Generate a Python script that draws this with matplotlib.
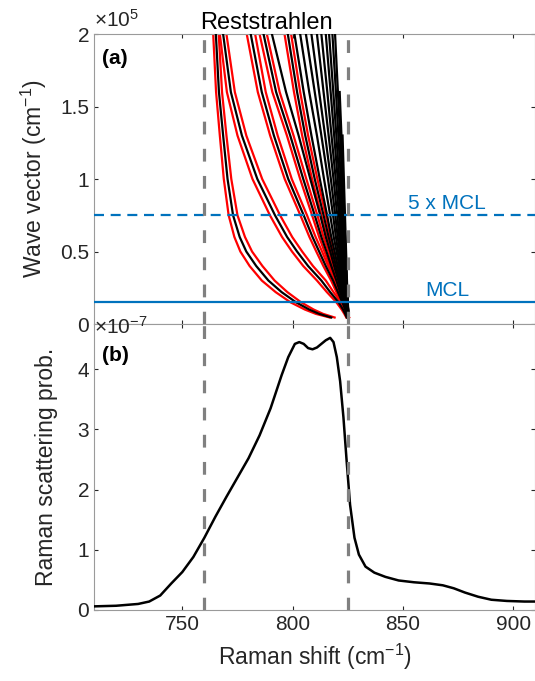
import numpy as np
import matplotlib
matplotlib.use('Agg')
import matplotlib.pyplot as plt
from matplotlib.ticker import FuncFormatter

plt.rcParams.update({
    'font.family': 'Liberation Sans',
    'mathtext.fontset': 'custom',
    'mathtext.rm': 'Liberation Sans',
    'mathtext.it': 'Liberation Sans:italic',
    'mathtext.bf': 'Liberation Sans:bold',
})

# ---- panel (a): mode dispersion, x = Raman shift (cm-1) at wave vector levels K (x 1e5 cm-1)
K = [2.0, 1.6, 1.3, 1.0, 0.75, 0.6, 0.5, 0.4, 0.3, 0.22, 0.15, 0.1, 0.07, 0.045]
nan = np.nan

m1 = [765.2, 766.6, 768.5, 770.5, 773.0, 776.0, 779.0, 783.5, 789.0, 795.0, 801.5, 807.5, 812.0, 817.5]
m1_lo = [764.0, 765.3, 767.0, 768.8, 771.0, 773.6, 776.3, 780.5, 786.0, 792.3, 799.0, 805.5, 810.5, 816.8]
m1_hi = [766.5, 768.0, 770.0, 772.2, 775.0, 778.4, 781.6, 786.3, 791.8, 797.6, 803.8, 809.5, 813.8, 819.0]

m2 = [768.5, 772.0, 777.0, 784.0, 792.0, 797.5, 802.0, 807.0, 813.0, 817.0, 820.8, 822.8, 823.8, 824.5]
m2_lo = [767.0, 770.2, 775.0, 781.8, 789.7, 795.2, 799.7, 804.8, 811.0, 815.5, 819.8, 822.2, 823.4, 824.3]
m2_hi = [770.0, 773.8, 779.0, 786.2, 794.3, 799.8, 804.3, 809.2, 815.0, 818.5, 821.8, 823.4, 824.3, 825.6]

m3 = [781.0, 786.0, 791.5, 798.0, 805.0, 809.0, 812.0, 815.0, 818.3, 820.5, 822.5, 823.8, 824.5, nan]
m3_lo = [779.2, 784.2, 789.8, 796.4, 803.5, 807.6, 810.7, 813.9, 817.4, 819.8, 822.0, 823.5, 824.3, nan]
m3_hi = [783.0, 787.8, 793.2, 799.6, 806.5, 810.4, 813.3, 816.1, 819.2, 821.2, 823.0, 824.1, 824.8, nan]

m4 = [786.8, 792.5, 798.9, 804.8, 810.0, 813.0, 815.3, 817.5, 819.8, 821.5, 823.0, 824.0, 824.7, nan]
m4_lo = [785.0, 790.8, 797.4, 803.4, 808.8, 812.0, 814.4, 816.8, 819.2, 821.0, 822.6, 823.7, 824.5, nan]
m4_hi = [788.3, 794.1, 800.4, 806.2, 811.2, 814.0, 816.2, 818.2, 820.4, 822.0, 823.4, 824.3, 824.9, nan]

m5 = [790.6, 797.0, 802.7, 808.0, 812.5, 815.0, 817.0, 818.8, 820.7, 822.2, 823.4, 824.2, 824.8, nan]

m6 = [797.8, 802.0, 805.7, 810.0, 814.0, 816.3, 818.0, 819.6, 821.3, 822.6, 823.7, 824.4, 824.9, nan]
m6_lo = [796.3, 800.6, 804.3, 808.8, 813.0, 815.5, 817.3, 819.0, 820.8, 822.2, 823.4, 824.2, 824.8, nan]
m6_hi = [799.3, 803.4, 807.0, 811.2, 815.0, 817.1, 818.7, 820.2, 821.8, 823.0, 824.0, 824.6, 825.0, nan]

m7 = [800.8, 805.0, 808.5, 812.3, 815.6, 817.5, 819.0, 820.4, 821.9, 823.0, 824.0, 824.6, 825.0, nan]
m8 = [803.4, 807.5, 811.0, 814.2, 817.0, 818.6, 819.9, 821.1, 822.4, 823.4, 824.2, 824.8, 825.1, nan]
m9 = [806.0, 810.0, 813.0, 816.0, 818.3, 819.6, 820.6, 821.6, 822.7, 823.5, 824.3, 824.8, 825.1, nan]
m10 = [808.5, 812.0, 814.7, 817.3, 819.3, 820.4, 821.3, 822.1, 823.0, 823.7, 824.4, 824.9, 825.1, nan]
m11 = [811.0, 814.0, 816.3, 818.5, 820.2, 821.1, 821.8, 822.5, 823.3, 823.9, 824.5, 825.0, 825.2, nan]
m12 = [813.0, 815.7, 817.6, 819.5, 821.0, 821.7, 822.3, 822.9, 823.6, 824.1, 824.6, 825.0, 825.2, nan]
m13 = [815.0, 817.2, 818.8, 820.4, 821.6, 822.2, 822.7, 823.2, 823.8, 824.3, 824.7, 825.1, 825.2, nan]
m14 = [816.5, 818.4, 819.8, 821.1, 822.1, 822.6, 823.1, 823.5, 824.0, 824.4, 824.8, 825.1, 825.2, nan]
m15 = [818.0, 819.6, 820.7, 821.8, 822.6, 823.0, 823.4, 823.8, 824.2, 824.5, 824.9, 825.1, 825.2, nan]
m16 = [819.2, 820.5, 821.5, 822.4, 823.0, 823.4, 823.7, 824.0, 824.3, 824.6, 824.9, 825.1, 825.2, nan]
m17 = [nan, 821.3, 822.1, 822.8, 823.4, 823.7, 824.0, 824.2, 824.5, 824.7, 825.0, 825.1, 825.2, nan]
m18 = [nan, nan, 822.6, 823.2, 823.7, 824.0, 824.2, 824.4, 824.6, 824.8, 825.0, 825.1, 825.2, nan]

black_modes = [m1, m2, m3, m4, m5, m6, m7, m8, m9, m10, m11, m12, m13, m14, m15, m16, m17, m18]
red_modes = [m1_lo, m1_hi, m2_lo, m2_hi, m3_lo, m3_hi, m4_lo, m4_hi, m6_lo, m6_hi]

mcl = 0.15          # x 1e5 cm-1
omega_to = 760
omega_lo = 825

# ---- panel (b): Raman scattering probability (x 1e-7)
shift = [710, 720, 730, 735, 740, 745, 750, 755, 760, 765, 770, 775, 780, 785, 790,
         795, 798, 801, 803, 805, 807, 809, 811, 813, 815, 817, 818.5, 820, 821.5,
         823, 824.5, 826, 828, 830, 833, 837, 842, 848, 855, 862, 868, 873, 878,
         884, 890, 897, 905, 910]
prob = [0.06, 0.07, 0.10, 0.14, 0.24, 0.44, 0.63, 0.88, 1.20, 1.55, 1.88, 2.20, 2.52,
        2.90, 3.35, 3.90, 4.20, 4.42, 4.45, 4.42, 4.35, 4.33, 4.36, 4.42, 4.48, 4.52,
        4.45, 4.20, 3.80, 3.20, 2.45, 1.75, 1.20, 0.92, 0.72, 0.62, 0.55, 0.49, 0.46,
        0.44, 0.41, 0.36, 0.29, 0.22, 0.17, 0.15, 0.14, 0.14]

blue = '#0072BD'
grey = '#808080'
spine_c = '#9a9a9a'
txt_c = '#262626'

fig = plt.figure(figsize=(5.35, 6.81), dpi=100)
ax1 = fig.add_axes([0.1757, 0.5242, 0.8252, 0.4258])
ax2 = fig.add_axes([0.1757, 0.1043, 0.8252, 0.4199])

for xs in red_modes:
    ax1.plot(xs, K, color='r', lw=1.6, zorder=2)
for xs in black_modes:
    ax1.plot(xs, K, color='k', lw=1.6, zorder=3)

ax1.axhline(mcl, color=blue, lw=1.6, zorder=4)
ax1.axhline(5 * mcl, color=blue, lw=1.6, ls=(0, (4.5, 3)), zorder=4)
ax1.text(870, 5 * mcl + 0.08, '5 x MCL', color=blue, fontsize=15, ha='center', va='center')
ax1.text(870, mcl + 0.08, 'MCL', color=blue, fontsize=15, ha='center', va='center')
ax1.text(713.5, 1.83, '(a)', fontsize=15, fontweight='bold', va='center', color='k')

ax2.plot(shift, prob, color='k', lw=1.8, zorder=3)
ax2.text(713.5, 4.22, '(b)', fontsize=15, fontweight='bold', va='center', color='k')

for ax in (ax1, ax2):
    for w in (omega_to, omega_lo):
        ax.axvline(w, color=grey, lw=2.3, ls=(0, (4, 4.5)), zorder=5)
    ax.set_xlim(710, 910)
    ax.set_xticks([750, 800, 850, 900])
    ax.tick_params(direction='in', length=3, width=0.8, colors=txt_c, labelsize=15,
                   top=True, right=True)
    for s in ax.spines.values():
        s.set_color(spine_c)
        s.set_linewidth(0.8)
    ax.yaxis.set_major_formatter(FuncFormatter(lambda v, p: '%g' % v))

ax1.set_ylim(0, 2)
ax1.set_yticks([0, 0.5, 1, 1.5, 2])
ax1.tick_params(labelbottom=False)
ax1.set_ylabel('Wave vector (cm$^{-1}$)', fontsize=16.5, color=txt_c, labelpad=8)
ax1.text(0.0, 1.01, r'$\times10^{5}$', transform=ax1.transAxes, fontsize=15,
         color=txt_c, ha='left', va='bottom')
ax1.set_title('Reststrahlen', fontsize=17, color='k', x=0.39, pad=2)

ax2.set_ylim(0, 4.75)
ax2.set_yticks([0, 1, 2, 3, 4])
ax2.set_ylabel('Raman scattering prob.', fontsize=16.5, color=txt_c, labelpad=14)
ax2.set_xlabel('Raman shift (cm$^{-1}$)', fontsize=16.5, color=txt_c, labelpad=6)
ax2.text(0.0, 1.03, r'$\times10^{-7}$', transform=ax2.transAxes, fontsize=15,
         color=txt_c, ha='left', va='top')

fig.savefig('out.png', dpi=100)
